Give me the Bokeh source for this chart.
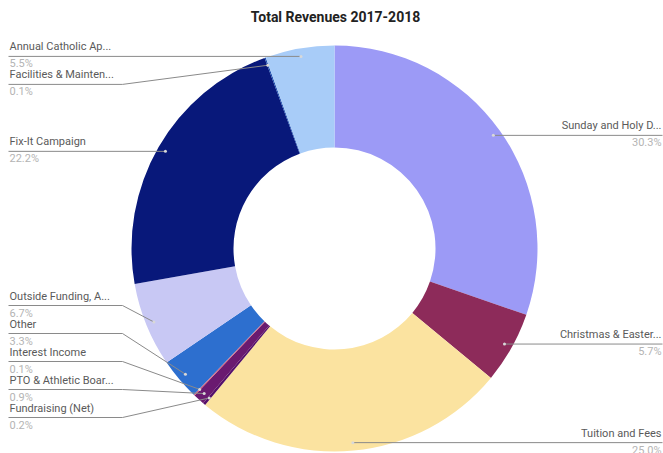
import numpy as np
from bokeh.plotting import figure
from bokeh.models import Range1d, ColumnDataSource
from bokeh.core.properties import value
from bokeh.embed import file_html
from bokeh.resources import INLINE

# ---------------- data ----------------
categories = ["Sunday and Holy D...", "Christmas & Easter...", "Tuition and Fees",
              "Fundraising (Net)", "PTO & Athletic Boar...", "Interest Income",
              "Other", "Outside Funding, A...", "Fix-It Campaign",
              "Facilities & Mainten...", "Annual Catholic Ap..."]
values = [30.3, 5.7, 25.0, 0.2, 0.9, 0.1, 3.3, 6.7, 22.2, 0.1, 5.5]
pct_labels = ["30.3%", "5.7%", "25.0%", "0.2%", "0.9%", "0.1%",
              "3.3%", "6.7%", "22.2%", "0.1%", "5.5%"]
colors = ["#9c9af6", "#8d2b5a", "#fbe3a0", "#55106a", "#6a1a70", "#d9607a",
          "#2d6fcf", "#c8c8f4", "#08187a", "#1e4fb0", "#a8ccf8"]
title_text = "Total Revenues 2017-2018"

# ---------------- layout ----------------
W, H = 663, 453
CX, CY = 334, H - 248      # donut centre (figure pixels, y up)
R_OUT, R_IN = 203, 101
R_DOT = 195
GAP = 28
LEFT_MAX_DOWN = 417        # lowest left label line, measured from top
ELBOW_X = 122
LEFT_X = 9
RIGHT_X = 661
FONT = "Roboto"

vals = np.array(values, dtype=float)
frac = vals / vals.sum()
cum1 = np.cumsum(frac)
cum0 = cum1 - frac
start = np.pi / 2 - cum1 * 2 * np.pi
end = np.pi / 2 - cum0 * 2 * np.pi
mid = np.pi / 2 - (cum0 + cum1) / 2 * 2 * np.pi

dot_x = CX + R_DOT * np.cos(mid)
dot_y = CY + R_DOT * np.sin(mid)
left = np.cos(mid) < 0

p = figure(width=W, height=H, x_range=Range1d(0, W), y_range=Range1d(0, H),
           output_backend="svg", toolbar_location=None, min_border=0,
           x_axis_location=None, y_axis_location=None)
p.grid.visible = False
p.outline_line_color = None
p.background_fill_color = "white"

src = ColumnDataSource(dict(start=start, end=end, color=colors))
p.annular_wedge(x=CX, y=CY, inner_radius=R_IN, outer_radius=R_OUT,
                start_angle="start", end_angle="end", color="color",
                line_color=None, source=src)


def place(idx, hi_down):
    # idx sorted top to bottom; work in "down" coordinates (distance from top)
    down = [H - dot_y[i] for i in idx]
    out = []
    for d in down:
        out.append(d if not out else max(d, out[-1] + GAP))
    if hi_down is not None and out:
        out[-1] = min(out[-1], hi_down)
        for k in range(len(out) - 2, -1, -1):
            out[k] = min(out[k], out[k + 1] - GAP)
    return {i: H - o for i, o in zip(idx, out)}


left_idx = sorted([i for i in range(len(values)) if left[i]], key=lambda i: -dot_y[i])
right_idx = sorted([i for i in range(len(values)) if not left[i]], key=lambda i: -dot_y[i])
ly = {}
ly.update(place(left_idx, LEFT_MAX_DOWN))
ly.update(place(right_idx, None))

xs, ys = [], []
nx, ny, nt, na = [], [], [], []
px_, py_, pt_ = [], [], []
for i in range(len(values)):
    y = ly[i]
    if left[i]:
        if abs(y - dot_y[i]) < 2:
            xs.append([LEFT_X - 1, dot_x[i]]); ys.append([y, dot_y[i]])
        else:
            xs.append([LEFT_X - 1, ELBOW_X, dot_x[i]]); ys.append([y, y, dot_y[i]])
        tx, al = LEFT_X, "left"
    else:
        if abs(y - dot_y[i]) < 2:
            xs.append([dot_x[i], RIGHT_X + 1]); ys.append([dot_y[i], y])
        else:
            xs.append([dot_x[i], W - ELBOW_X, RIGHT_X + 1]); ys.append([dot_y[i], y, y])
        tx, al = RIGHT_X, "right"
    nx.append(tx); ny.append(y + 3); nt.append(categories[i]); na.append(al)
    px_.append(tx); py_.append(y - 1); pt_.append(pct_labels[i])

p.multi_line(xs=xs, ys=ys, line_color="#8a8a8a", line_width=1)
p.scatter(x=dot_x, y=dot_y, size=3, color="#d8d8d8", line_color=None)

p.text(x=nx, y=ny, text=nt, text_align=na, text_baseline="bottom",
       text_font=value(FONT), text_font_size="11px", text_color="#5a5a5a")
p.text(x=px_, y=py_, text=pt_, text_align=na, text_baseline="top",
       text_font=value(FONT), text_font_size="11px", text_color="#b4b4b4")

p.text(x=[335], y=[H - 16], text=[title_text], text_align="center",
       text_baseline="middle", text_font=value(FONT), text_font_size="14px",
       text_font_style="bold", text_color="#222222")

open("out.html", "w").write(file_html(p, INLINE))
